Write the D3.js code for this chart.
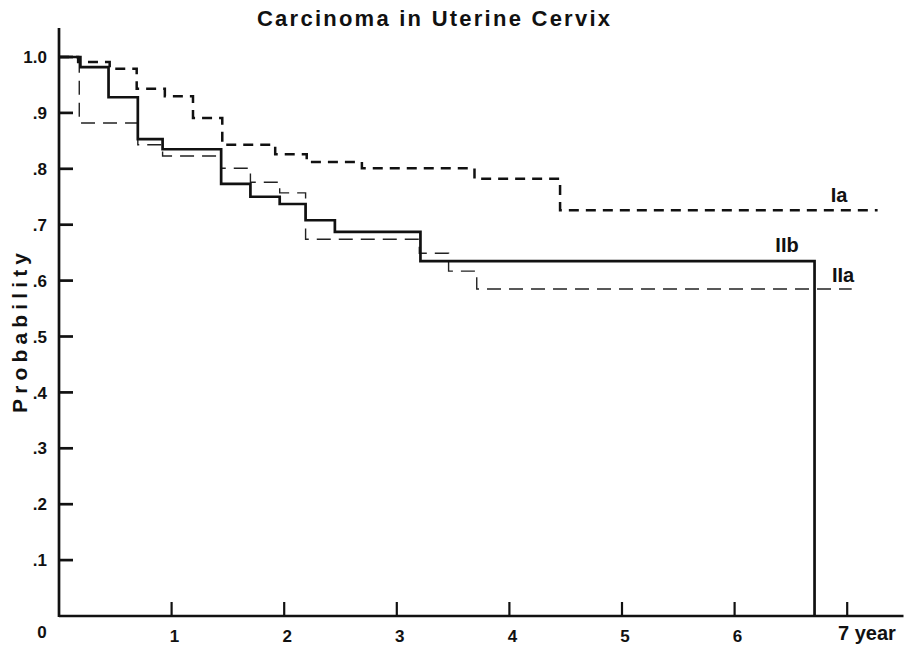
<!DOCTYPE html>
<html>
<head>
<meta charset="utf-8">
<script src="https://cdn.jsdelivr.net/npm/d3@7"></script>
<style>
  body { margin: 0; background: #fff; }
  text { font-family: "Liberation Sans", Arial, sans-serif; font-weight: bold; fill: #111; }
</style>
</head>
<body>
<svg id="plot"></svg>
<script>
// survival curves (time in years, probability)
var iaTimes  = [0, 0.17, 0.45, 0.69, 0.94, 1.19, 1.45, 1.92, 2.20, 2.69, 3.69, 4.45, 7.27];
var iaSurv   = [1.0, 0.991, 0.979, 0.943, 0.930, 0.891, 0.843, 0.826, 0.812, 0.801, 0.782, 0.726, 0.726];

var iibTimes = [0, 0.19, 0.44, 0.70, 0.92, 1.44, 1.70, 1.96, 2.19, 2.45, 3.21, 6.71, 6.71];
var iibSurv  = [1.0, 0.982, 0.928, 0.853, 0.835, 0.773, 0.750, 0.737, 0.708, 0.687, 0.635, 0.635, 0];

var iiaTimes = [0, 0.18, 0.70, 0.92, 1.44, 1.70, 1.96, 2.19, 3.20, 3.46, 3.71, 7.04];
var iiaSurv  = [1.0, 0.882, 0.843, 0.823, 0.801, 0.776, 0.757, 0.674, 0.649, 0.617, 0.585, 0.585];

var yTickVals   = [0.1, 0.2, 0.3, 0.4, 0.5, 0.6, 0.7, 0.8, 0.9, 1.0];
var yTickLabels = ['.1', '.2', '.3', '.4', '.5', '.6', '.7', '.8', '.9', '1.0'];
var xTickVals   = [1, 2, 3, 4, 5, 6];

var w = 919, h = 648;
var xs = d3.scaleLinear().domain([0, 7]).range([59, 847.2]);
var ys = d3.scaleLinear().domain([0, 1]).range([616, 57]);

var svg = d3.select('#plot').attr('width', w).attr('height', h);

function pairs(t, s) { return t.map(function(d, i) { return [d, s[i]]; }); }

var step = d3.line()
    .x(function(d) { return xs(d[0]); })
    .y(function(d) { return ys(d[1]); })
    .curve(d3.curveStepAfter);

// curves
svg.append('path')
    .attr('d', step(pairs(iiaTimes, iiaSurv)))
    .attr('fill', 'none').attr('stroke', '#222')
    .attr('stroke-width', 1.4)
    .attr('stroke-dasharray', '14,8');

svg.append('path')
    .attr('d', step(pairs(iaTimes, iaSurv)))
    .attr('fill', 'none').attr('stroke', '#111')
    .attr('stroke-width', 2.5)
    .attr('stroke-dasharray', '10,7');

svg.append('path')
    .attr('d', step(pairs(iibTimes, iibSurv)))
    .attr('fill', 'none').attr('stroke', '#111')
    .attr('stroke-width', 2.7);

// axes
svg.append('line')
    .attr('x1', xs(0)).attr('x2', xs(0))
    .attr('y1', 28).attr('y2', ys(0) + 1)
    .attr('stroke', '#111').attr('stroke-width', 2.7);

svg.append('line')
    .attr('x1', xs(0)).attr('x2', xs(7.5))
    .attr('y1', ys(0)).attr('y2', ys(0))
    .attr('stroke', '#111').attr('stroke-width', 2.7);

svg.selectAll('.ytick')
    .data(yTickVals)
    .enter().append('line')
    .attr('x1', xs(0)).attr('x2', xs(0) + 14)
    .attr('y1', function(d) { return ys(d); })
    .attr('y2', function(d) { return ys(d); })
    .attr('stroke', '#111').attr('stroke-width', 2.7);

svg.selectAll('.ylab')
    .data(yTickVals)
    .enter().append('text')
    .attr('x', 47)
    .attr('y', function(d) { return ys(d); })
    .attr('dy', '0.36em')
    .attr('text-anchor', 'end')
    .style('font-size', '17px')
    .text(function(d, i) { return yTickLabels[i]; });

svg.selectAll('.xtick')
    .data(xTickVals.concat([7]))
    .enter().append('line')
    .attr('x1', function(d) { return xs(d); })
    .attr('x2', function(d) { return xs(d); })
    .attr('y1', ys(0)).attr('y2', ys(0) - 14)
    .attr('stroke', '#111').attr('stroke-width', 2.2);

svg.selectAll('.xlab')
    .data(xTickVals)
    .enter().append('text')
    .attr('x', function(d) { return xs(d) + 3; })
    .attr('y', 642)
    .attr('text-anchor', 'middle')
    .style('font-size', '17px')
    .text(function(d) { return d; });

svg.append('text')
    .attr('x', 42).attr('y', 638)
    .attr('text-anchor', 'middle')
    .style('font-size', '17px')
    .text('0');

svg.append('text')
    .attr('x', 838).attr('y', 640)
    .style('font-size', '20px')
    .text('7 year');

// curve labels
svg.append('text').attr('x', 839).attr('y', 202)
    .attr('text-anchor', 'middle').style('font-size', '20px').text('Ia');
svg.append('text').attr('x', 787).attr('y', 252)
    .attr('text-anchor', 'middle').style('font-size', '20px').text('IIb');
svg.append('text').attr('x', 843).attr('y', 282)
    .attr('text-anchor', 'middle').style('font-size', '20px').text('IIa');

// title and axis label
svg.append('text')
    .attr('x', 257).attr('y', 26)
    .attr('textLength', 353).attr('lengthAdjust', 'spacing')
    .style('font-size', '22px')
    .text('Carcinoma in Uterine Cervix');

svg.append('text')
    .attr('transform', 'translate(27,333) rotate(-90)')
    .attr('text-anchor', 'middle')
    .attr('textLength', 160).attr('lengthAdjust', 'spacing')
    .style('font-size', '21px')
    .text('Probability');
</script>
</body>
</html>
